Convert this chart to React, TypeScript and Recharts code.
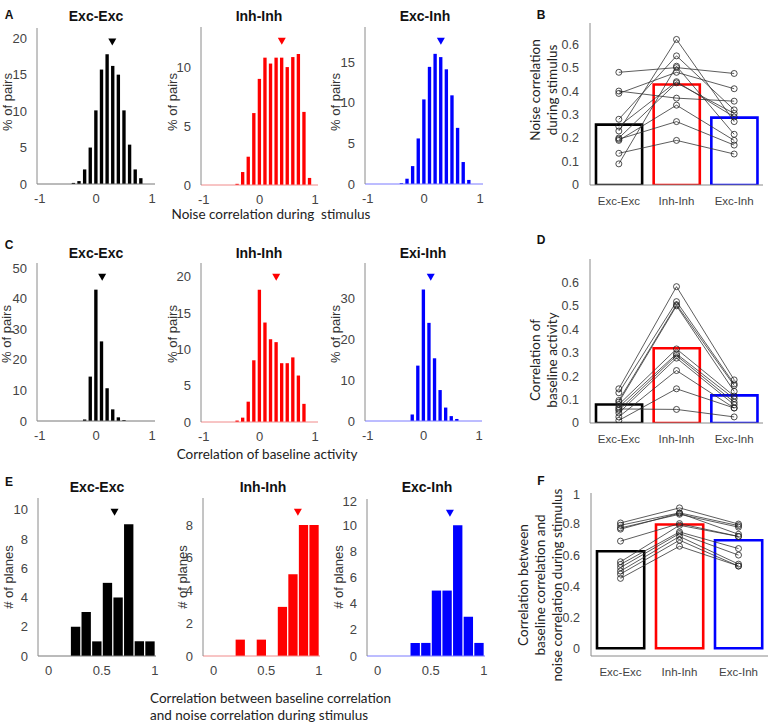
import React from "react";
import {
  BarChart,
  Bar,
  ComposedChart,
  Line,
  XAxis,
  YAxis,
  Cell,
  ReferenceDot,
} from "recharts";

// ---------- histogram data (bin centres and heights) ----------
const binsA = [-0.4, -0.3, -0.2, -0.1, 0, 0.1, 0.2, 0.3, 0.4, 0.5, 0.6, 0.7, 0.8, 0.9];
const aExcExc = [0.15, 0.4, 2.0, 5.0, 10.1, 15.7, 17.8, 16.2, 15.0, 10.1, 5.4, 2.0, 0.8, 0];
const aInhInh = [0.1, 1.1, 2.4, 6.1, 9.0, 10.8, 10.3, 10.8, 10.8, 10.0, 10.85, 11.1, 6.2, 0.6];
const aExcInh = [0.1, 0.65, 2.2, 5.6, 10.4, 14.4, 16.0, 15.6, 14.1, 10.9, 6.9, 2.7, 0.5, 0];

const binsC = [-0.4, -0.3, -0.2, -0.1, 0, 0.1, 0.2, 0.3, 0.4, 0.5, 0.6, 0.7, 0.8];
const cExcExc = [0, 0, 0.5, 14.5, 42.9, 26.0, 10.7, 3.8, 1.2, 0.3, 0, 0, 0];
const cInhInh = [0.2, 0.6, 2.8, 8.5, 18.2, 13.7, 11.4, 11.0, 8.1, 8.1, 8.9, 6.4, 2.5];
const cExiInh = [0, 0, 1.6, 13.6, 32.3, 24.1, 15.4, 7.6, 3.3, 1.2, 0.5, 0, 0];

const binsE = [0.05, 0.15, 0.25, 0.35, 0.45, 0.55, 0.65, 0.75, 0.85, 0.95];
const eExcExc = [0, 0, 2, 3, 1, 5, 4, 9, 1, 1];
const eInhInh = [0, 0, 1, 0, 1, 0, 3, 5, 8, 8];
const eExcInh = [0, 0, 0, 1, 1, 5, 5, 10, 3, 1];

// mean markers
const meansA = [0.29, 0.4, 0.3];
const meansC = [0.11, 0.3, 0.13];
const meansE = [0.62, 0.8, 0.68];

// ---------- paired per-plane values ----------
const cats = ["Exc-Exc", "Inh-Inh", "Exc-Inh"];

const bMeans = [0.257, 0.428, 0.287];
const bExcExc = [0.48, 0.4, 0.39, 0.28, 0.25, 0.23, 0.19, 0.195, 0.135, 0.09, 0.2];
const bInhInh = [0.5, 0.37, 0.48, 0.55, 0.44, 0.62, 0.34, 0.27, 0.19, 0.506, 0.435];
const bExcInh = [0.475, 0.357, 0.41, 0.32, 0.29, 0.27, 0.19, 0.17, 0.132, 0.216, 0.305];

const dMeans = [0.079, 0.319, 0.118];
const dExcExc = [0.146, 0.129, 0.096, 0.089, 0.079, 0.068, 0.054, 0.043, 0.026, 0.011, 0.06];
const dInhInh = [0.582, 0.518, 0.505, 0.5, 0.316, 0.295, 0.288, 0.277, 0.224, 0.146, 0.058];
const dExcInh = [0.184, 0.167, 0.16, 0.135, 0.115, 0.104, 0.089, 0.078, 0.064, 0.064, 0.026];

const fMeans = [0.625, 0.797, 0.696];
const fExcExc = [0.807, 0.792, 0.775, 0.767, 0.69, 0.557, 0.54, 0.52, 0.497, 0.478, 0.45];
const fInhInh = [0.904, 0.872, 0.863, 0.87, 0.803, 0.792, 0.749, 0.739, 0.72, 0.696, 0.657];
const fExcInh = [0.8, 0.79, 0.78, 0.734, 0.72, 0.72, 0.642, 0.6, 0.542, 0.529, 0.53];

const TICK = "#444";
const AXIS = "#8a8a8a";
const SANS = "'Liberation Sans', Arial, sans-serif";
const CAL = "Lato, 'Open Sans', sans-serif";

const YW = 30;
const MT = 6;
const XH = 22;

type Rect = { l: number; t: number; r: number; b: number };

function Tri(props: any) {
  const { cx, cy, fill } = props;
  if (cx == null || cy == null) return null;
  return <polygon points={`${cx - 4},${cy - 3.5} ${cx + 4},${cy - 3.5} ${cx},${cy + 3.5}`} fill={fill} />;
}

function Hist({
  rect,
  bins,
  values,
  color,
  axisColor,
  xDomain,
  xTicks,
  yMax,
  yTicks,
  mean,
  binW,
  frac,
}: {
  rect: Rect;
  bins: number[];
  values: number[];
  color: string;
  axisColor: string;
  xDomain: [number, number];
  xTicks: number[];
  yMax: number;
  yTicks: number[];
  mean: number;
  binW: number;
  frac: number;
}) {
  const data = bins.map((x, i) => ({ x, y: values[i] }));
  const w = rect.r - rect.l;
  const h = rect.b - rect.t;
  const pxPerUnit = w / (xDomain[1] - xDomain[0]);
  return (
    <div style={{ position: "absolute", left: rect.l - YW, top: rect.t - MT }}>
      <BarChart
        width={w + YW + 4}
        height={h + MT + XH}
        data={data}
        margin={{ top: MT, right: 4, bottom: 0, left: 0 }}
      >
        <XAxis
          dataKey="x"
          type="number"
          domain={xDomain}
          ticks={xTicks}
          allowDataOverflow
          height={XH}
          tickLine={false}
          axisLine={{ stroke: axisColor }}
          tick={{ fill: TICK, fontSize: 13, fontFamily: SANS }}
          tickMargin={4}
        />
        <YAxis
          type="number"
          domain={[0, yMax]}
          ticks={yTicks}
          allowDataOverflow
          width={YW}
          tickLine={false}
          axisLine={{ stroke: AXIS }}
          tick={{ fill: TICK, fontSize: 13, fontFamily: SANS }}
          tickMargin={4}
        />
        <Bar dataKey="y" fill={color} barSize={Math.max(1, binW * pxPerUnit * frac)} isAnimationActive={false} />
        <ReferenceDot x={mean} y={yMax * 0.91} r={4} fill={color} stroke="none" shape={Tri} />
      </BarChart>
    </div>
  );
}

const BAR_COLORS = ["#000000", "#ff0000", "#0000ff"];

function Paired({
  rect,
  means,
  g1,
  g2,
  g3,
  yDomain,
  yTicks,
  right,
}: {
  rect: Rect;
  means: number[];
  g1: number[];
  g2: number[];
  g3: number[];
  yDomain: [number, number];
  yTicks: number[];
  right: number;
}) {
  const groups = [g1, g2, g3];
  const data = cats.map((c, ci) => {
    const row: Record<string, string | number> = { cat: c, mean: means[ci] };
    groups[ci].forEach((v, i) => {
      row["p" + i] = v;
    });
    return row;
  });
  const w = rect.r - rect.l;
  const h = rect.b - rect.t;
  const bandW = w / 3;
  return (
    <div style={{ position: "absolute", left: rect.l - YW - 4, top: rect.t - MT }}>
      <ComposedChart
        width={w + YW + 4 + right}
        height={h + MT + XH + 2}
        data={data}
        margin={{ top: MT, right: right, bottom: 0, left: 0 }}
      >
        <XAxis
          dataKey="cat"
          height={XH + 2}
          tickLine={false}
          axisLine={{ stroke: AXIS }}
          tick={{ fill: TICK, fontSize: 11.5, fontFamily: SANS }}
          tickMargin={6}
        />
        <YAxis
          type="number"
          domain={yDomain}
          ticks={yTicks}
          allowDataOverflow
          width={YW + 4}
          tickLine={false}
          axisLine={{ stroke: AXIS }}
          tick={{ fill: TICK, fontSize: 12.5, fontFamily: SANS }}
          tickMargin={5}
        />
        <Bar dataKey="mean" barSize={bandW * 0.8} fill="none" strokeWidth={2.6} isAnimationActive={false}>
          {data.map((_, i) => (
            <Cell key={i} stroke={BAR_COLORS[i]} fill="none" />
          ))}
        </Bar>
        {g1.map((_, i) => (
          <Line
            key={i}
            dataKey={"p" + i}
            stroke="#333"
            strokeWidth={0.8}
            dot={{ r: 3, stroke: "#222", strokeWidth: 0.8, fill: "none" }}
            activeDot={false}
            isAnimationActive={false}
          />
        ))}
      </ComposedChart>
    </div>
  );
}

function Txt({
  x,
  y,
  children,
  size = 13,
  bold = false,
  font = SANS,
  color = "#111",
  rotate = false,
  align = "center",
  lh,
}: {
  x: number;
  y: number;
  children: React.ReactNode;
  size?: number;
  bold?: boolean;
  font?: string;
  color?: string;
  rotate?: boolean;
  align?: "center" | "left";
  lh?: number;
}) {
  const tr =
    align === "left"
      ? "translate(0,-50%)"
      : rotate
      ? "translate(-50%,-50%) rotate(-90deg)"
      : "translate(-50%,-50%)";
  return (
    <div
      style={{
        position: "absolute",
        left: x,
        top: y,
        transform: tr,
        whiteSpace: "nowrap",
        fontSize: size,
        fontWeight: bold ? 700 : 400,
        fontFamily: font,
        color,
        textAlign: align,
        lineHeight: lh ? lh + "px" : "normal",
      }}
    >
      {children}
    </div>
  );
}

export default function App() {
  const xA: [number, number] = [-1.05, 1.05];
  const xE: [number, number] = [-0.1, 1.01];
  return (
    <div
      style={{
        position: "absolute",
        left: 0,
        top: 0,
        width: 768,
        height: 723,
        background: "#fff",
        overflow: "hidden",
      }}
    >
      {/* Row A */}
      <Hist rect={{ l: 37, t: 28, r: 155, b: 184 }} bins={binsA} values={aExcExc} color="#000" axisColor="#777"
        xDomain={xA} xTicks={[-1, 0, 1]} yMax={21.4} yTicks={[0, 5, 10, 15, 20]} mean={meansA[0]} binW={0.1} frac={0.6} />
      <Hist rect={{ l: 201, t: 27, r: 318, b: 185 }} bins={binsA} values={aInhInh} color="#ff0000" axisColor="#f08a8a"
        xDomain={xA} xTicks={[-1, 0, 1]} yMax={13.4} yTicks={[0, 5, 10]} mean={meansA[1]} binW={0.1} frac={0.6} />
      <Hist rect={{ l: 365, t: 27, r: 483, b: 184 }} bins={binsA} values={aExcInh} color="#0000ff" axisColor="#7a7aff"
        xDomain={xA} xTicks={[-1, 0, 1]} yMax={19.3} yTicks={[0, 5, 10, 15]} mean={meansA[2]} binW={0.1} frac={0.6} />
      <Paired rect={{ l: 590, t: 23, r: 763, b: 185 }} means={bMeans} g1={bExcExc} g2={bInhInh} g3={bExcInh}
        yDomain={[0, 0.69]} yTicks={[0, 0.1, 0.2, 0.3, 0.4, 0.5, 0.6]} right={5} />

      {/* Row C */}
      <Hist rect={{ l: 37, t: 263, r: 155, b: 421 }} bins={binsC} values={cExcExc} color="#000" axisColor="#777"
        xDomain={xA} xTicks={[-1, 0, 1]} yMax={51.6} yTicks={[0, 10, 20, 30, 40, 50]} mean={meansC[0]} binW={0.1} frac={0.6} />
      <Hist rect={{ l: 201, t: 263, r: 318, b: 422 }} bins={binsC} values={cInhInh} color="#ff0000" axisColor="#f08a8a"
        xDomain={xA} xTicks={[-1, 0, 1]} yMax={21.9} yTicks={[0, 5, 10, 15, 20]} mean={meansC[1]} binW={0.1} frac={0.6} />
      <Hist rect={{ l: 365, t: 263, r: 482, b: 421 }} bins={binsC} values={cExiInh} color="#0000ff" axisColor="#7a7aff"
        xDomain={xA} xTicks={[-1, 0, 1]} yMax={38.8} yTicks={[0, 10, 20, 30]} mean={meansC[2]} binW={0.1} frac={0.6} />
      <Paired rect={{ l: 590, t: 259, r: 763, b: 423 }} means={dMeans} g1={dExcExc} g2={dInhInh} g3={dExcInh}
        yDomain={[0, 0.7]} yTicks={[0, 0.1, 0.2, 0.3, 0.4, 0.5, 0.6]} right={5} />

      {/* Row E */}
      <Hist rect={{ l: 38, t: 498, r: 156, b: 656 }} bins={binsE} values={eExcExc} color="#000" axisColor="#777"
        xDomain={xE} xTicks={[0, 0.5, 1]} yMax={10.8} yTicks={[0, 2, 4, 6, 8, 10]} mean={meansE[0]} binW={0.1} frac={0.88} />
      <Hist rect={{ l: 203, t: 498, r: 320, b: 656 }} bins={binsE} values={eInhInh} color="#ff0000" axisColor="#f08a8a"
        xDomain={xE} xTicks={[0, 0.5, 1]} yMax={9.65} yTicks={[0, 2, 4, 6, 8]} mean={meansE[1]} binW={0.1} frac={0.88} />
      <Hist rect={{ l: 367, t: 499, r: 485, b: 656 }} bins={binsE} values={eExcInh} color="#0000ff" axisColor="#7a7aff"
        xDomain={xE} xTicks={[0, 0.5, 1]} yMax={12} yTicks={[0, 2, 4, 6, 8, 10, 12]} mean={meansE[2]} binW={0.1} frac={0.88} />
      <Paired rect={{ l: 591, t: 493, r: 768, b: 656 }} means={fMeans} g1={fExcExc} g2={fInhInh} g3={fExcInh}
        yDomain={[-0.05, 1]} yTicks={[0, 0.2, 0.4, 0.6, 0.8, 1]} right={0} />

      {/* panel letters */}
      <Txt x={9} y={15} size={12} bold>A</Txt>
      <Txt x={541} y={15} size={12} bold>B</Txt>
      <Txt x={9} y={245} size={12} bold>C</Txt>
      <Txt x={541} y={240} size={12} bold>D</Txt>
      <Txt x={9} y={482} size={12} bold>E</Txt>
      <Txt x={541} y={481} size={12} bold>F</Txt>

      {/* titles */}
      <Txt x={96} y={16} size={14} bold>Exc-Exc</Txt>
      <Txt x={259} y={16} size={14} bold>Inh-Inh</Txt>
      <Txt x={425} y={16} size={14} bold>Exc-Inh</Txt>
      <Txt x={96} y={253} size={14} bold>Exc-Exc</Txt>
      <Txt x={259} y={253} size={14} bold>Inh-Inh</Txt>
      <Txt x={423} y={253} size={14} bold>Exi-Inh</Txt>
      <Txt x={97} y={487} size={14} bold>Exc-Exc</Txt>
      <Txt x={263} y={487} size={14} bold>Inh-Inh</Txt>
      <Txt x={427} y={487} size={14} bold>Exc-Inh</Txt>

      {/* histogram y labels */}
      <Txt x={7} y={102} size={13} rotate color="#333">% of pairs</Txt>
      <Txt x={172} y={102} size={13} rotate color="#333">% of pairs</Txt>
      <Txt x={335} y={102} size={13} rotate color="#333">% of pairs</Txt>
      <Txt x={6} y={334} size={13} rotate color="#333">% of pairs</Txt>
      <Txt x={172} y={334} size={13} rotate color="#333">% of pairs</Txt>
      <Txt x={335} y={334} size={13} rotate color="#333">% of pairs</Txt>
      <Txt x={8} y={577} size={13} rotate color="#333"># of planes</Txt>
      <Txt x={182} y={577} size={13} rotate color="#333"># of planes</Txt>
      <Txt x={338} y={577} size={13} rotate color="#333"># of planes</Txt>

      {/* paired y labels */}
      <Txt x={544} y={90} size={13.5} rotate font={CAL} lh={17} color="#222">
        Noise correlation<br />during stimulus
      </Txt>
      <Txt x={544} y={360} size={13.5} rotate font={CAL} lh={17} color="#222">
        Correlation of<br />baseline activity
      </Txt>
      <Txt x={540} y={585} size={13.5} rotate font={CAL} lh={17} color="#222">
        Correlation between<br />baseline correlation and<br />noise correlation during stimulus
      </Txt>

      {/* shared x labels */}
      <Txt x={271} y={214} size={13.5} font={CAL} color="#222">Noise correlation during&nbsp; stimulus</Txt>
      <Txt x={267} y={454} size={13.5} font={CAL} color="#222">Correlation of baseline activity</Txt>
      <Txt x={150} y={698} size={13.5} font={CAL} color="#222" align="left">Correlation between baseline correlation</Txt>
      <Txt x={150} y={715} size={13.5} font={CAL} color="#222" align="left">and noise correlation during stimulus</Txt>
    </div>
  );
}
